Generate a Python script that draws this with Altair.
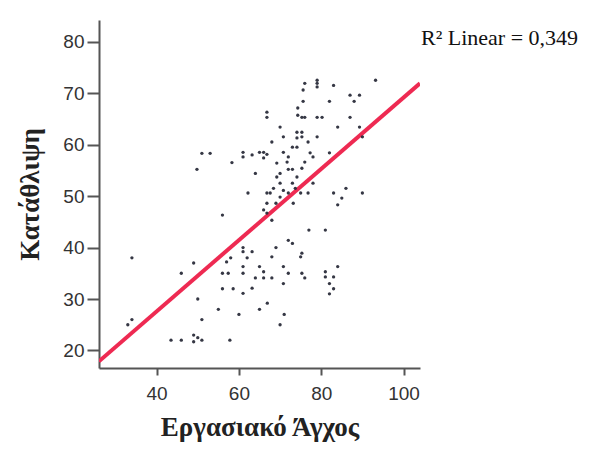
import altair as alt
import pandas as pd

# Εργασιακό Άγχος (x) and Κατάθλιψη (y) values
anxiety = [
    33, 34, 34, 46, 49, 50, 51, 55, 43.5, 46, 49, 49, 50, 51, 57.8, 56, 57, 56, 57.4, 56, 58.6, 58,
    61, 63.2, 62, 61, 61, 65, 66, 66, 64, 68, 68, 70.8, 72, 70.8, 61, 63.2, 66.9, 65, 60, 71, 70, 75,
    61, 69, 72, 73,
    75.3, 75.3, 76, 84, 81, 81, 83, 82, 83, 82,
    78, 76.8, 83, 86, 85, 84, 90, 77, 81, 75.3, 76,
    64, 62.2, 66.8, 67.6, 66.8, 66, 66.8, 68, 69, 70, 68.4, 70.8, 70, 69.2, 70, 69.2, 72, 73, 71.7,
    74.1, 73, 73.7, 72, 73.2, 75,
    66.8, 66.8, 74.3, 74.3, 70, 70.8, 68, 74.1, 74.1, 73, 74.1, 61, 61, 63.2, 65, 66, 66.8, 66, 70.8, 72,
    79, 79, 79, 76, 75.6, 83, 93.2, 75.6, 82, 87, 89.3, 88, 75.3, 76, 79, 80.2, 87, 84, 89.3, 90,
    75.3, 75.3, 79, 76.8, 77.3, 78, 82,
    49.8, 51, 53, 58.3,
]
depression = [
    25, 26, 38, 35, 37, 30, 26, 28, 22, 22, 23, 21.7, 22.5, 22, 22, 46.3, 37.2, 35, 35, 32, 32, 38,
    39.2, 39.2, 38, 36.3, 35, 36.3, 35.3, 34.1, 34.1, 34.1, 38.2, 36.3, 35, 33, 31.1, 32.1, 29.2, 28, 27, 27, 25, 38.2,
    40, 40, 41.4, 40.8,
    38.9, 35, 34.1, 36.3, 35.3, 34.3, 34.3, 33, 32, 31,
    52.5, 50.6, 50.6, 51.5, 49.6, 48.3, 50.6, 43.4, 43.4, 55.4, 56.6,
    54.4, 50.6, 50.6, 50.6, 48.6, 47.3, 46.7, 45.3, 48.6, 49.8, 51.5, 51.1, 52.5, 53.7, 54.4, 56.4, 55.2, 55.2, 56.6,
    53.7, 52.5, 51.5, 50.6, 48.6, 50.6,
    66.3, 65.3, 65.7, 67.1, 63.4, 61.5, 60.5, 62.4, 61.3, 59.5, 59.5, 58.5, 57.6, 58, 58.5, 58.5, 58.1, 57.4, 58.5, 57.6,
    72.5, 71.9, 71.2, 71.9, 70.6, 71.5, 72.5, 68.4, 68.4, 69.6, 69.6, 68.4, 65.3, 65.3, 65.3, 65.3, 65.3, 63.4, 63.4, 61.5,
    62.4, 61.5, 61.5, 60.5, 58.4, 57.6, 58.4,
    55.2, 58.3, 58.3, 56.5,
]

# Fit line end points
fit_x = [26, 104]
fit_y = [17.9, 71.9]

x_title = "Εργασιακό Άγχος"
y_title = "Κατάθλιψη"
r2_label = "R² Linear = 0,349"

x_domain = [26, 104]
y_domain = [16.6, 84.2]

pts = pd.DataFrame({"x": anxiety, "y": depression})
fit = pd.DataFrame({"x": fit_x, "y": fit_y})

xscale = alt.Scale(domain=x_domain, nice=False, zero=False)
yscale = alt.Scale(domain=y_domain, nice=False, zero=False)

xaxis = alt.Axis(
    title=x_title, values=[40, 60, 80, 100], grid=False,
    domainColor="#555555", domainWidth=2, tickColor="#555555", tickWidth=2, tickSize=7,
    labelFont="Liberation Sans", labelFontSize=19, labelColor="#333333", labelPadding=9,
    titleFont="Liberation Serif", titleFontSize=27, titleFontWeight="bold", titleColor="#222222",
    titlePadding=11,
)
yaxis = alt.Axis(
    title=y_title, values=[20, 30, 40, 50, 60, 70, 80], grid=False,
    domainColor="#555555", domainWidth=2, tickColor="#555555", tickWidth=2, tickSize=12,
    labelFont="Liberation Sans", labelFontSize=19, labelColor="#333333", labelPadding=3,
    titleFont="Liberation Serif", titleFontSize=27, titleFontWeight="bold", titleColor="#222222",
    titlePadding=18,
)

points = alt.Chart(pts).mark_point(filled=True, size=11, color="#2a2c3a", opacity=0.95).encode(
    x=alt.X("x:Q", scale=xscale, axis=xaxis),
    y=alt.Y("y:Q", scale=yscale, axis=yaxis),
)

line = alt.Chart(fit).mark_line(color="#ee2a52", strokeWidth=4, clip=True).encode(
    x=alt.X("x:Q", scale=xscale),
    y=alt.Y("y:Q", scale=yscale),
)

label = alt.Chart(pd.DataFrame({"t": [r2_label]})).mark_text(
    align="left", baseline="alphabetic", font="Liberation Serif", fontSize=22, color="#111111"
).encode(text="t:N", x=alt.value(322), y=alt.value(25))

chart = alt.layer(line, points, label).properties(
    width=321, height=348,
    autosize=alt.AutoSizeParams(type="none"),
    padding={"left": 91, "top": 12, "right": 162, "bottom": 76},
    background="white",
).configure_view(stroke=None)

chart.save("out.html", embed_options={"renderer": "svg", "actions": False})
